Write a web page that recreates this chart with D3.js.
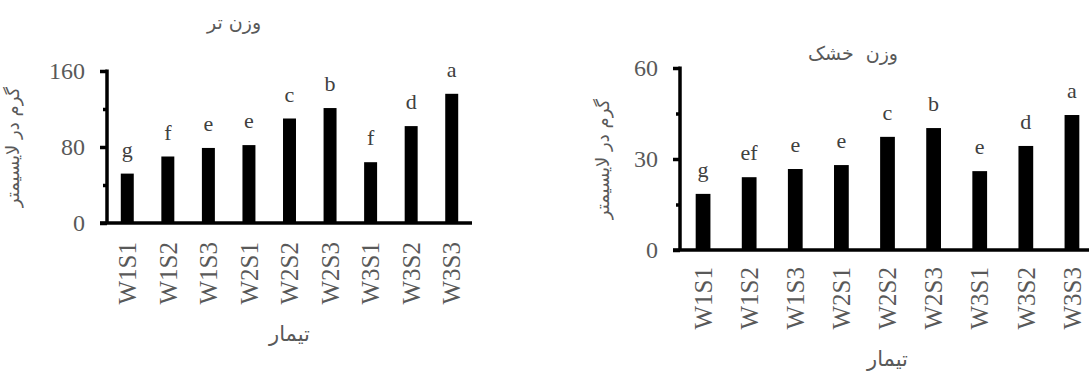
<!DOCTYPE html>
<html>
<head>
<meta charset="utf-8">
<script src="https://cdn.jsdelivr.net/npm/d3@7"></script>
<style>
  body { margin: 0; background: #fff; }
  svg { display: block; }
</style>
</head>
<body>
<div id="chart"></div>
<script>
// treatments
const categories = ["W1S1", "W1S2", "W1S3", "W2S1", "W2S2", "W2S3", "W3S1", "W3S2", "W3S3"];

// fresh weight (وزن تر)
const freshWeight = [52, 70, 79, 82, 110, 121, 64, 102, 136];
const freshLetters = ["g", "f", "e", "e", "c", "b", "f", "d", "a"];
const freshTicks = [0, 80, 160];
const freshMinor = [40, 120];

// dry weight (وزن خشک)
const dryWeight = [18.5, 24, 26.7, 28, 37.3, 40.2, 26, 34.3, 44.5];
const dryLetters = ["g", "ef", "e", "e", "c", "b", "e", "d", "a"];
const dryTicks = [0, 30, 60];
const dryMinor = [15, 45];

const yTitle = "گرم در لایسیمتر";
const xTitle = "تیمار";

const width = 1089, height = 374;
const serif = '"Liberation Serif", "Times New Roman", serif';
const faFont = '"DejaVu Sans", sans-serif';

const svg = d3.select("#chart")
  .append("svg")
    .attr("width", width)
    .attr("height", height);

const faText = (g, size) => g.append("text")
  .attr("text-anchor", "middle")
  .style("font-family", faFont)
  .style("font-size", size + "px")
  .style("fill", "#595959")
  .style("white-space", "pre");

const drawPanel = (p) => {
  const x = d3.scaleBand()
    .domain(categories)
    .range([p.left, p.right])
    .paddingInner(0.68)
    .paddingOuter(0.34);
  const y = d3.scaleLinear()
    .domain([0, p.max])
    .range([p.bottom, p.top]);

  const g = svg.append("g");

  // bars
  g.append("g")
    .attr("fill", "#000")
    .selectAll()
      .data(p.values)
      .join("rect")
        .attr("x", (d, i) => x(categories[i]))
        .attr("y", d => y(d))
        .attr("width", x.bandwidth())
        .attr("height", d => y(0) - y(d));

  // significance letters
  g.append("g")
    .selectAll()
      .data(p.values)
      .join("text")
        .attr("x", (d, i) => x(categories[i]) + x.bandwidth() / 2)
        .attr("y", d => y(d) - 17)
        .attr("text-anchor", "middle")
        .style("font-family", serif)
        .style("font-size", "22px")
        .style("fill", "#404040")
        .text((d, i) => p.letters[i]);

  // minor y ticks
  g.append("g")
    .attr("transform", `translate(${p.left},0)`)
    .call(d3.axisLeft(y).tickValues(p.minor).tickSize(4).tickFormat(""))
    .call(a => a.select(".domain").remove())
    .selectAll("line").attr("stroke", "#000").attr("stroke-width", 3.5);

  // major y ticks + labels
  const ya = g.append("g")
    .attr("transform", `translate(${p.left},0)`)
    .call(d3.axisLeft(y).tickValues(p.ticks).tickSize(7).tickPadding(15))
    .call(a => a.select(".domain").remove());
  ya.selectAll("line").attr("stroke", "#000").attr("stroke-width", 3.5);
  ya.selectAll("text")
    .style("font-family", serif)
    .style("font-size", "24px")
    .style("fill", "#595959");

  // y axis line
  g.append("line")
    .attr("x1", p.left).attr("x2", p.left)
    .attr("y1", y(p.max) - 1.5).attr("y2", y(0))
    .attr("stroke", "#000").attr("stroke-width", 3.5);

  // x axis
  const xa = g.append("g")
    .attr("transform", `translate(0,${p.bottom})`)
    .call(d3.axisBottom(x).tickSize(0))
    .call(a => a.select(".domain").remove());
  xa.selectAll("text")
    .attr("transform", "rotate(-90)")
    .attr("text-anchor", "end")
    .attr("x", -p.labelGap)
    .attr("y", 0)
    .attr("dy", "0.35em")
    .style("font-family", serif)
    .style("font-size", "25px")
    .style("fill", "#595959");

  g.append("line")
    .attr("x1", p.left - 7).attr("x2", p.right)
    .attr("y1", p.bottom).attr("y2", p.bottom)
    .attr("stroke", "#000").attr("stroke-width", 3.5);

  // titles
  faText(g, 19)
    .attr("x", p.titleX).attr("y", p.titleY)
    .text(p.title);

  faText(g, 18)
    .attr("transform", `translate(${p.yTitleX},${(p.top + p.bottom) / 2}) rotate(-90)`)
    .text(yTitle);

  faText(g, 21)
    .attr("x", (p.left + p.right) / 2).attr("y", p.xTitleY)
    .text(xTitle);
};

drawPanel({
  values: freshWeight, letters: freshLetters, ticks: freshTicks, minor: freshMinor, max: 160,
  left: 107, right: 472, top: 71, bottom: 223, labelGap: 19,
  title: "وزن تر", titleX: 234, titleY: 29, yTitleX: 19, xTitleY: 341
});

drawPanel({
  values: dryWeight, letters: dryLetters, ticks: dryTicks, minor: dryMinor, max: 60,
  left: 680, right: 1095, top: 68, bottom: 250, labelGap: 17,
  title: "وزن  خشک", titleX: 853, titleY: 60, yTitleX: 609, xTitleY: 366
});
</script>
</body>
</html>
